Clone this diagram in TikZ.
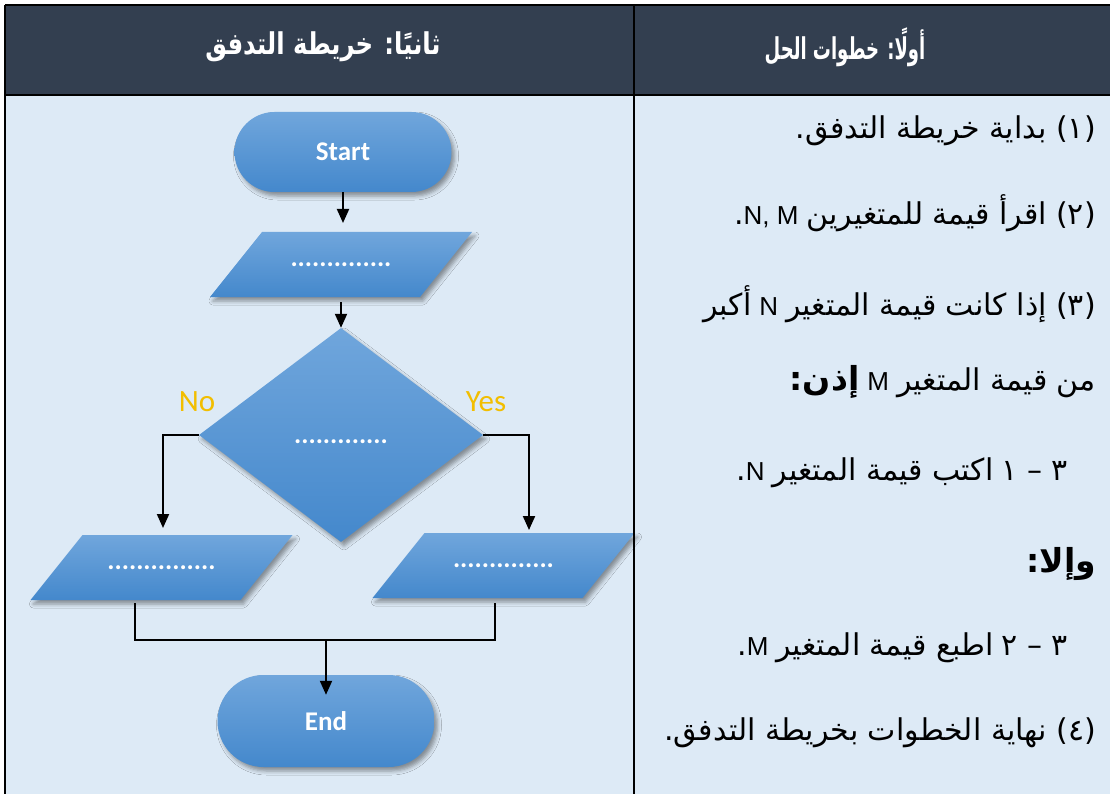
\documentclass[tikz,border=0pt]{standalone}
\usepackage{fontspec}
\setmainfont{Liberation Sans}
\newfontfamily\arabicfont[Script=Arabic]{DejaVu Sans}
\newfontfamily\calfont{Carlito}
\newfontfamily\latfont{Liberation Sans}
\TeXXeTstate=1
\usetikzlibrary{shapes.geometric,shadows,shadows.blur,arrows.meta,calc}

\definecolor{hdr}{RGB}{51,63,80}
\definecolor{bodyc}{RGB}{221,234,246}
\definecolor{shtop}{RGB}{112,166,220}
\definecolor{shbot}{RGB}{68,136,204}
\definecolor{gold}{RGB}{242,190,0}
\definecolor{goldedge}{RGB}{190,120,0}

\newcommand\lat[1]{{\latfont\fontsize{26}{28}\selectfont #1}}
\newcommand\gap{\hspace{8pt}}

\tikzset{
  shapefill/.style={top color=shtop, bottom color=shbot, draw=none,
    blur shadow={shadow xshift=3pt, shadow yshift=-4pt, shadow blur radius=4pt}},
  flowtext/.style={text=white, font=\calfont\bfseries\fontsize{27}{30}\selectfont},
  flow/.style={shapefill, flowtext},
  term/.style={flow, rectangle, rounded corners=40pt, minimum width=217pt, minimum height=80pt},
  dec/.style={flow, diamond, minimum width=284pt, minimum height=214pt},
  para/.pic={\path[shapefill] (-131,32.5) -- (79,32.5) -- (131,-32.5) -- (-79,-32.5) -- cycle;},
  link/.style={line width=2pt, black},
  arr/.style={link, -{Triangle[length=14pt,width=12pt]}},
  ar/.style={font=\arabicfont\fontsize{30}{34}\selectfont, anchor=base east, inner sep=0pt},
  hd/.style={font=\arabicfont\bfseries\fontsize{30}{32}\selectfont, text=white, inner sep=0pt},
  lab/.style={text=gold, font=\calfont\fontsize{31}{34}\selectfont, inner sep=0pt},
  labedge/.style={text=goldedge, font=\calfont\bfseries\fontsize{31}{34}\selectfont, inner sep=0pt}
}

\begin{document}
\begin{tikzpicture}[x=1pt,y=-1pt]
\useasboundingbox (0,0) rectangle (1110,794);
\clip (0,0) rectangle (1110,794);
% table background
\fill[bodyc] (5,95) rectangle (1115,800);
\fill[hdr] (5,5) rectangle (1115,95);

% headers
\node[hd] (h1) at (845,47) {\scalebox{0.6}[1]{\beginR أولًا: خطوات الحل\endR}};
\node[hd] (h2) at (323,47) {\scalebox{0.81}[1]{\beginR ثانيًا: خريطة التدفق\endR}};

% flowchart shapes
\node[term] (start) at (343,152) {Start};
\pic at (341,264.5) {para};
\node[flowtext] (p1) at (341,264.5) {..............};
\node[dec] (d) at (341,435) {};
\node[flowtext] (dt) at (341,442) {.............};
\pic at (161.5,567.5) {para};
\node[flowtext] (pl) at (161.5,567.5) {...............};
\pic at (503.5,565.5) {para};
\node[flowtext] (pr) at (503.5,565.5) {..............};
\node[term, minimum height=92pt, rounded corners=46pt] (end) at (326,721) {End};

\node[lab] (no) at (197,402) {No};
\node[lab] (yes) at (486,402) {Yes};

% connectors
\draw[arr] (start.south) -- ($(p1.center)+(2,-41.5)$);
\draw[arr] ($(p1.center)+(0,37.5)$) -- (d.north);
\draw[arr] (d.west) -| ($(pl.center)+(1.5,-39.5)$);
\draw[arr] (d.east) -| ($(pr.center)+(25.5,-35.5)$);
\coordinate (m) at (326,640);
\draw[link] ($(pl.center)+(-26.5,35.5)$) |- (m) -| ($(pr.center)+(-8.5,37.5)$);
\draw[arr] (m) -- ($(end.north)+(0,20)$);

% solution steps
\node[ar] (s1) at (1096,139) {\beginR\beginL(١)\endL{} بداية خريطة التدفق.\endR};
\node[ar] (s2) at (1096,225) {\beginR\beginL(٢)\endL{} اقرأ قيمة للمتغيرين\gap\beginL\lat{N, M}\endL.\endR};
\node[ar] (s3) at (1096,315) {\beginR\beginL(٣)\endL{} إذا كانت قيمة المتغير\gap\lat{N}\gap أكبر\endR};
\node[ar] (s4) at (1096,390) {\beginR من قيمة المتغير\gap\lat{M}\gap{\bfseries\fontsize{33}{36}\selectfont إذن:}\endR};
\node[ar] (s5) at (1068,480) {\beginR ٣ – ١\gap اكتب قيمة المتغير\gap\beginL\lat{N}\endL.\endR};
\node[ar] (s6) at (1096,572) {\beginR{\bfseries\fontsize{33}{36}\selectfont وإلا:}\endR};
\node[ar] (s7) at (1068,655) {\beginR ٣ – ٢\gap اطبع قيمة المتغير\gap\beginL\lat{M}\endL.\endR};
\node[ar] (s8) at (1096,740) {\beginR\beginL(٤)\endL{} نهاية الخطوات بخريطة التدفق.\endR};

% table lines
\draw[line width=2.5pt] (5,5) -- (1115,5);
\draw[line width=2.5pt] (5,5) -- (5,800);
\draw[line width=1.5pt] (5,95) -- (1115,95);
\draw[line width=1.5pt] (634,5) -- (634,800);
\end{tikzpicture}
\end{document}
